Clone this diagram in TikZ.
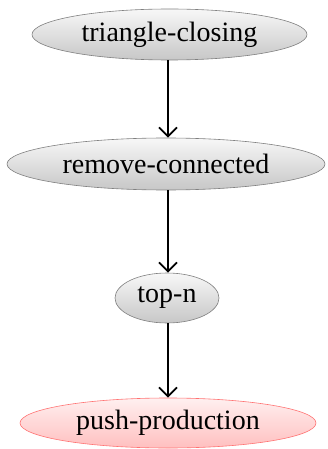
\documentclass[tikz,border=0pt]{standalone}
\usepackage{fontspec}
\setmainfont{Liberation Serif}
\usetikzlibrary{arrows.meta,shapes.geometric}
\begin{document}
\begin{tikzpicture}[x=1pt,y=-1pt,
  gnode/.style={ellipse,draw=black!50,line width=0.6pt,top color=black!3,bottom color=black!22,
    inner sep=0pt,font=\fontsize{28}{30}\selectfont},
  pnode/.style={ellipse,draw=red!55,line width=0.6pt,top color=red!6,bottom color=red!25,
    inner sep=0pt,font=\fontsize{28}{30}\selectfont},
  flow/.style={line width=1.8pt,-{Straight Barb[length=9pt,width=18pt,line width=1.8pt]}}]
\useasboundingbox (0,0) rectangle (328,449);
\node[gnode,minimum width=275pt,minimum height=51pt] (a) at (169.5,34.5) {triangle-closing};
\node[gnode,minimum width=318pt,minimum height=52pt] (b) at (166,164) {remove-connected};
\node[gnode,minimum width=104pt,minimum height=50pt] (c) at (167,298) {top-n};
\node[pnode,minimum width=296pt,minimum height=50pt] (d) at (168,423) {push-production};
\draw[flow] (a.south -| 168,0) -- (b.north -| 168,0);
\draw[flow] (b.south -| 168,0) -- (c.north -| 168,0);
\draw[flow] (c.south -| 168,0) -- (d.north -| 168,0);
\end{tikzpicture}
\end{document}
